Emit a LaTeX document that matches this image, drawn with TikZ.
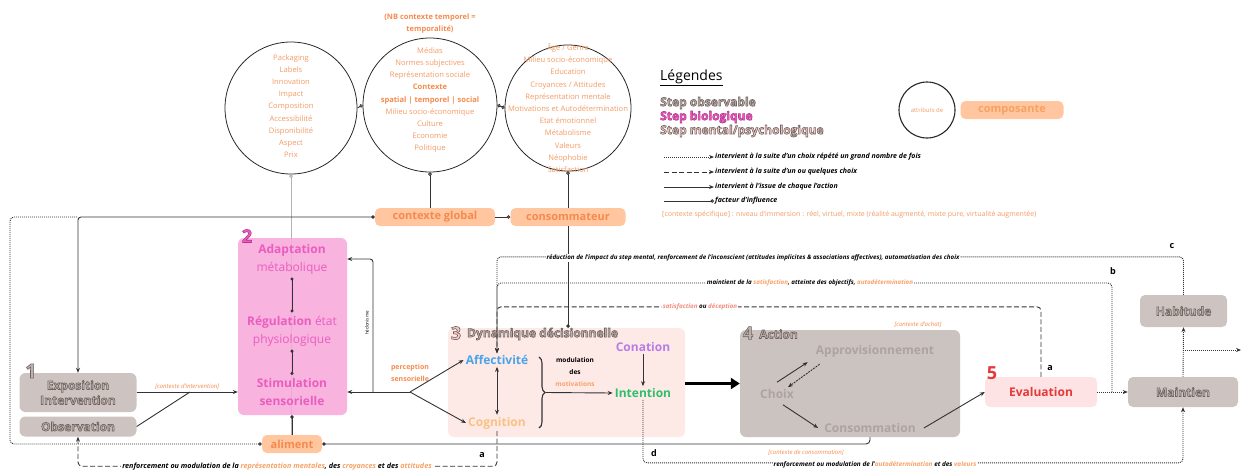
\documentclass[tikz,border=0pt]{standalone}
\usepackage{fontspec}
\setmainfont{Open Sans}
\usetikzlibrary{arrows.meta,decorations.pathreplacing}

% couleurs
\definecolor{attrorange}{HTML}{F29B66}
\definecolor{boxpeach}{HTML}{FFC6A0}
\definecolor{boxorange}{HTML}{F58A4E}
\definecolor{motorange}{HTML}{F7A165}
\definecolor{biopink}{HTML}{F8A8DB}
\definecolor{biotext}{HTML}{EA5DBF}
\definecolor{dynpink}{HTML}{FDEAE7}
\definecolor{mentalpink}{HTML}{F6C9C6}
\definecolor{obsgrey}{HTML}{CDC4C1}
\definecolor{obstext}{HTML}{BDB1AD}
\definecolor{actgrey}{HTML}{CBC3C0}
\definecolor{acttext}{HTML}{ADA4A2}
\definecolor{evalpink}{HTML}{FDE3E3}
\definecolor{evalred}{HTML}{E5383B}
\definecolor{affblue}{HTML}{4AA3EA}
\definecolor{cogorange}{HTML}{F7C282}
\definecolor{conpurple}{HTML}{B77CE6}
\definecolor{intgreen}{HTML}{2CBF6B}
\definecolor{satred}{HTML}{F28A7E}
\definecolor{linegrey}{HTML}{333333}

% texte avec contour (mode de rendu pdf 2)
\newcommand{\bordtxt}[2]{{\special{pdf:literal direct #1 RG 2 Tr 0.6 w}#2\special{pdf:literal direct 0 Tr}}}
\newcommand{\bordgris}[1]{\bordtxt{0.43 0.38 0.37}{#1}}
\newcommand{\bordbio}[1]{\bordtxt{0.72 0.22 0.56}{#1}}

\tikzset{
  attribut/.style={circle,draw=black!85,line width=0.8pt,minimum size=#1,inner sep=0pt},
  attributtxt/.style={align=center,text=attrorange,font=\fontsize{7.6}{12.2}\selectfont},
  composante/.style={rounded corners=5pt,fill=boxpeach,text=boxorange,inner sep=0pt,
    minimum height=18pt,minimum width=#1,font=\bfseries\fontsize{11}{11}\selectfont},
  observable/.style={rounded corners=6pt,fill=obsgrey,text=obstext,inner sep=0pt,
    minimum width=117pt,align=center,font=\bfseries\fontsize{12}{15}\selectfont},
  biotxt/.style={align=center,text=biotext,font=\fontsize{12}{18}\selectfont},
  steptxt/.style={font=\bfseries\fontsize{12}{12}\selectfont,inner sep=2pt},
  numero/.style={font=\bfseries\fontsize{18}{18}\selectfont,inner sep=0pt},
  lien/.style={draw=linegrey,line width=0.9pt},
  influence/.style={lien,-{Circle[open,length=3.5pt]}},
  repete/.style={lien,dash pattern=on 1pt off 1pt},
  quelques/.style={lien,dash pattern=on 5pt off 2.5pt},
  boucle/.style={font=\bfseries\itshape\fontsize{6.2}{7}\selectfont,fill=white,inner sep=1pt},
  lettre/.style={font=\bfseries\fontsize{9}{9}\selectfont,inner sep=0pt},
  ctxspec/.style={font=\itshape\fontsize{6}{7}\selectfont,text=boxorange,inner sep=1pt},
  legtxt/.style={anchor=west,font=\bfseries\itshape\fontsize{7}{8}\selectfont,inner sep=1pt},
}

\begin{document}
\begin{tikzpicture}[x=1pt,y=-1pt,>={Stealth[length=5pt,width=4pt]}]
\useasboundingbox (0,0) rectangle (1242,472);

% attributs des composantes
\node[attribut=132pt] (produit) at (291,108) {};
\node[attribut=134pt] (contexte) at (430,105) {};
\node[attribut=126pt] (individu) at (568,108) {};
\node[attributtxt] (produittxt) at (291,106) {Packaging\\Labels\\Innovation\\Impact\\Composition\\Accessibilité\\Disponibilité\\Aspect\\Prix};
\node[attributtxt] (contextetxt) at (430,100) {Médias\\Normes subjectives\\Représentation sociale\\
  \textcolor{boxorange}{\bfseries Contexte}\\\textcolor{boxorange}{\bfseries spatial | temporel | social}\\
  Milieu socio-économique\\Culture\\Economie\\Politique};
\node[attributtxt] (individutxt) at (568,108) {Âge / Genre\\Milieu socio-économique\\Education\\Croyances / Attitudes\\Représentation mentale\\Motivations et Autodétermination\\Etat émotionnel\\Métabolisme\\Valeurs\\Néophobie\\Satisfaction};
\node[align=center,text=boxorange,font=\bfseries\fontsize{7.5}{12}\selectfont] (nb) at (430,24) {(NB contexte temporel =\\temporalité)};

\node[composante=120pt] (ctxglobal) at (435,217) {contexte global};
\node[composante=115pt] (consommateur) at (568,217) {consommateur};
\node[composante=60pt] (aliment) at (292,444) {aliment};

\draw[influence] (produit.east) -- (contexte.west);
\draw[lien,{Circle[open,length=3.5pt]}-{Circle[open,length=3.5pt]}] (contexte.east) -- (individu.west);
\draw[influence] (contexte.south |- ctxglobal.north) -- (contexte.south);
\draw[influence] (consommateur.north) -- (individu.south);
\draw[influence] (ctxglobal.east) -- (consommateur.west);
\draw[draw=black!30,line width=0.9pt,{Circle[open,length=3.5pt]}-] (produit.south) -- (produit.south |- aliment.north);

% 1 exposition
\node[observable,minimum height=39pt] (expo) at (78,392.5) {\bordgris{Exposition}\\\bordgris{Intervention}};
\node[observable,minimum height=20pt] (obs) at (78,426.5) {\bordgris{Observation}};
\node[numero,text=obstext,font=\bfseries\fontsize{20}{20}\selectfont] (num1) at (31,371) {\bordgris{1}};
\draw[lien,{Circle[length=3.5pt]}-{>},rounded corners=3pt] (ctxglobal.west) -- (expo.north |- ctxglobal.west) -- (expo.north);
\draw[repete,rounded corners=4pt,{Circle[open,length=3.5pt]}-] (aliment.west) -- (10,444) -- (10,217) -- (expo.north |- ctxglobal.west);

% 2 biologique
\node[fill=biopink,fill opacity=0.88,rounded corners=6pt,minimum width=109pt,minimum height=177pt] (bio) at (292.5,326.5) {};
\node[numero,text=biotext] (num2) at (247,236) {\bordbio{2}};
\node[biotxt] (adapt) at (292,259) {\textbf{Adaptation}\\métabolique};
\node[biotxt] (regul) at (292,331) {\textbf{Régulation} état\\physiologique};
\node[biotxt] (stim) at (292,392) {\textbf{Stimulation}\\\textbf{sensorielle}};
\draw[lien,{Circle[length=3pt]}-{Circle[length=3pt]}] (adapt.south) -- (regul.north);
\draw[lien,{Circle[length=3pt]}-{Circle[length=3pt]}] (regul.south) -- (stim.north);
\draw[lien,-{Circle[length=3.5pt]}] (aliment.north) -- (aliment.north |- bio.south);

\coordinate (jonction) at (190,392);
\draw[lien,->] (expo.east |- stim) -- (bio.west |- stim)
  node[ctxspec,midway,above=1pt] {[contexte d'intervention]};
\draw[lien] (obs.east) -- (jonction);

% perception
\coordinate (branche) at (410,392);
\coordinate (hedo) at (373,392);
\node[text=boxorange,align=center,font=\bfseries\fontsize{7}{12.5}\selectfont] (percep) at (410,373) {perception\\sensorielle};
\draw[lien,->] (branche) -- (bio.east |- branche);
\draw[lien,->,rounded corners=3pt] (hedo) |- (bio.east |- adapt);
\node[rotate=90,font=\fontsize{4.5}{5}\selectfont,inner sep=0pt] (hedotxt) at (367,323) {hédonisme};

% 3 dynamique decisionnelle
\node[fill=dynpink,rounded corners=6pt,minimum width=237pt,minimum height=109pt] (dyn) at (566.5,382.5) {};
\node[numero,text=mentalpink] (num3) at (456,333) {\bordgris{3}};
\node[anchor=west,steptxt,text=obstext,inner sep=0pt] (dyntitre) at (467,334) {\bordgris{Dynamique décisionnelle}};
\node[steptxt,text=affblue] (affect) at (497,360) {Affectivité};
\node[steptxt,text=cogorange] (cogn) at (497,423) {Cognition};
\node[steptxt,text=conpurple] (conat) at (643,347) {Conation};
\node[steptxt,text=intgreen] (intent) at (643,393) {Intention};
\node[align=center,font=\bfseries\fontsize{6.5}{12}\selectfont] (modul) at (575,372) {modulation\\des\\\textcolor{motorange}{motivations}};
\draw[lien,->] (branche) -- (affect.west);
\draw[lien,->] (branche) -- (cogn.west);
\draw[lien,<->] (affect.south) -- (cogn.north);
\draw[lien,line width=1.1pt,decorate,decoration={brace,amplitude=6pt}] (539,357) -- (539,428);
\coordinate (pointe) at (546,392.5);
\draw[lien,->] (pointe) -- (intent.west);
\draw[lien,->] (conat.south) -- (intent.north);
\draw[lien,-{Circle[length=3.5pt]}] (consommateur.south) -- (consommateur.south |- dyn.north);

% 4 action
\node[fill=actgrey,rounded corners=6pt,minimum width=220pt,minimum height=107pt] (act) at (850,383.5) {};
\draw[line width=3pt,-{Triangle[length=9pt,width=11pt]}] (dyn.east |- act) -- (act.west);
\node[numero,text=obstext] (num4) at (748,333) {\bordgris{4}};
\node[anchor=west,steptxt,text=obstext,inner sep=0pt] (acttitre) at (759,334) {\bordgris{Action}};
\node[ctxspec] (achat) at (918,325) {[contexte d'achat]};
\node[steptxt,text=acttext] (appro) at (875,351) {Approvisionnement};
\node[steptxt,text=acttext] (choix) at (777,394) {Choix};
\node[steptxt,text=acttext] (conso) at (870,428) {Consommation};
\draw[lien,->] ([shift={(0pt,5pt)}]choix.north) -- ([shift={(-6pt,-3pt)}]appro.south west);
\draw[quelques,->,dash pattern=on 2pt off 1pt] ([shift={(6pt,-5pt)}]appro.south west) -- ([shift={(11pt,0pt)}]choix.north);
\draw[lien,->] ([shift={(6pt,-4pt)}]choix.south) -- ([shift={(-4pt,0pt)}]conso.west);
\draw[lien,{Circle[length=3.5pt]}-,rounded corners=4pt] (aliment.east) -- (aliment.east -| conso.south) -- (conso.south |- act.south);
\node[ctxspec] (ctxconso) at (806,453) {[contexte de consommation]};

% 5 evaluation, maintien, habitude
\node[fill=evalpink,rounded corners=5pt,minimum width=112pt,minimum height=30pt,text=evalred,font=\bfseries\fontsize{12}{12}\selectfont] (eval) at (1041,392) {Evaluation};
\node[numero,text=evalred] (num5) at (992,373) {5};
\draw[lien,->] ([shift={(6pt,0pt)}]conso.east) -- (eval.west);
\node[fill=obsgrey,rounded corners=5pt,minimum width=110pt,minimum height=30pt,steptxt,text=obstext] (maint) at (1183,392) {\bordgris{Maintien}};
\node[fill=obsgrey,rounded corners=5pt,minimum width=87pt,minimum height=32pt,steptxt,text=obstext] (habit) at (1183.5,311) {\bordgris{Habitude}};
\coordinate (bjoint) at (1112,392);
\coordinate (hbranche) at (1183,350);
\coordinate (sortie) at (1241,350);
\draw[repete,->] (eval.east) -- (maint.west);
\draw[repete,->] (maint.north) -- (habit.south);
\draw[repete,->] (hbranche) -- (sortie);

% boucles de retour
\draw[repete,rounded corners=4pt,->] (habit.north) -- ++(0,-38) -| (affect.north);
\draw[repete,rounded corners=4pt,->] (bjoint) -- ++(0,-109) -| (affect.north);
\draw[quelques,rounded corners=4pt,->] (eval.north) -- ++(0,-70) -| (affect.north);
\node[boucle] (ctxt) at (753,258) {réduction de l'impact du step mental, renforcement de l'inconscient (attitudes implicites \& associations affectives), automatisation des choix};
\node[boucle] (btxt) at (810,283) {maintient de la \textcolor{motorange}{satisfaction}, atteinte des objectifs, \textcolor{motorange}{autodétermination}};
\node[boucle] (atxt) at (700,307) {\textcolor{satred}{satisfaction} ou \textcolor{satred}{déception}};
\node[lettre] (lc) at (1172,246) {c};
\node[lettre] (lb) at (1113,271) {b};
\node[lettre] (la) at (1050,368) {a};

\draw[repete,rounded corners=4pt,->] (intent.south) -- ++(0,63) -| (maint.south);
\node[boucle,font=\bfseries\itshape\fontsize{6.4}{7}\selectfont] (dtxt) at (875,465) {renforcement ou modulation de l'\textcolor{motorange}{autodétermination} et des \textcolor{motorange}{valeurs}};
\node[lettre] (ld) at (654,453) {d};

\draw[quelques,rounded corners=4pt,->] (cogn.south) -- ++(0,35) -| (obs.south);
\node[boucle,font=\bfseries\itshape\fontsize{7.2}{8}\selectfont] (abtxt) at (277,467) {renforcement ou modulation de la \textcolor{motorange}{représentation mentales}, des \textcolor{motorange}{croyances} et des \textcolor{motorange}{attitudes}};
\node[lettre] (lab) at (482,455) {a};

% legende
\node[anchor=west,font=\fontsize{14}{14}\selectfont,inner sep=0pt] (legtitre) at (660,78) {\underline{Légendes}};
\node[anchor=west,steptxt,inner sep=0pt,text=obstext] (legobs) at (660,103) {\bordgris{Step observable}};
\node[anchor=west,steptxt,inner sep=0pt,text=biotext] (legbio) at (660,117) {\bordbio{Step biologique}};
\node[anchor=west,steptxt,inner sep=0pt,text=mentalpink] (legment) at (660,131) {\bordgris{Step mental/psychologique}};
\node[legtxt] (leg1) at (714,157) {intervient à la suite d'un choix répété un grand nombre de fois};
\node[legtxt] (leg2) at (714,172) {intervient à la suite d'un ou quelques choix};
\node[legtxt] (leg3) at (714,187) {intervient à l'issue de chaque l'action};
\node[legtxt] (leg4) at (714,201) {facteur d'influence};
\draw[repete,->] ([xshift=-50pt]leg1.west) -- (leg1.west);
\draw[quelques,->] ([xshift=-50pt]leg2.west) -- (leg2.west);
\draw[lien,->] ([xshift=-50pt]leg3.west) -- (leg3.west);
\draw[influence] ([xshift=-50pt]leg4.west) -- (leg4.west);
\node[anchor=west,text=attrorange,font=\fontsize{7}{8}\selectfont,inner sep=0pt] (legctx) at (662,215) {[contexte spécifique] : niveau d'immersion : réel, virtuel, mixte (réalité augmenté, mixte pure, virtualité augmentée)};
\node[attribut=56pt,line width=1.1pt] (legcercle) at (927,110) {};
\node[text=attrorange,font=\fontsize{6}{7}\selectfont,inner sep=0pt] (legcercletxt) at (927,110) {attributs de};
\node[composante=103pt,text=motorange] (legcomp) at (1012,110) {composante};
\end{tikzpicture}
\end{document}
